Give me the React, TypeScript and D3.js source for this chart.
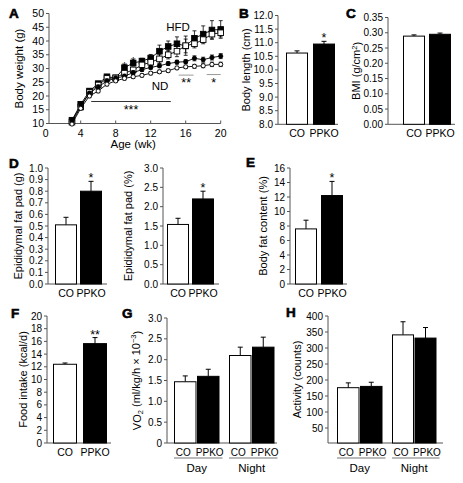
import React from 'react';
import * as d3 from 'd3';

const FONT = '"Liberation Sans", Arial, Helvetica, sans-serif';
const AXIS = '#555';

// ---------- Panel A data ----------
const weeks = [3, 4, 5, 6, 7, 8, 9, 10, 11, 12, 13, 14, 15, 16, 17, 18, 19, 20];
const hfdPPKO = [11.2, 17, 21.8, 24.5, 27, 26.6, 30.3, 32, 32.7, 33.8, 36.3, 38, 39, 38.2, 41, 42.5, 44, 44.2];
const hfdPPKOErr = [0.8, 0.8, 0.8, 0.8, 0.8, 0.8, 1, 1, 1, 1.3, 2.2, 2, 2.5, 2.5, 2.7, 3, 3.4, 3.2];
const hfdCO = [10.5, 16, 21.3, 24, 26.4, 26.6, 28.3, 29.5, 31.3, 32.3, 33.5, 35, 36.3, 38.3, 39, 40.5, 42.5, 43];
const hfdCOErr = [0.6, 0.8, 0.8, 0.8, 0.8, 0.8, 1, 1, 1, 1.3, 1.5, 1.5, 2, 3.5, 1.5, 1.5, 1.5, 1.5];
const ndPPKO = [11, 16.5, 21, 23.3, 25.5, 26.5, 27.2, 28.5, 29.6, 30.4, 31, 31.8, 32.3, 32.5, 33.7, 33.2, 34, 34.5];
const ndPPKOErr = [0.6, 0.7, 0.7, 0.7, 0.7, 0.7, 0.7, 0.7, 0.7, 0.7, 0.7, 0.7, 0.7, 0.7, 0.9, 0.9, 0.9, 0.9];
const ndCO = [9.8, 15.5, 20, 21.8, 24.3, 25.5, 26.4, 27, 27.5, 28.3, 28.8, 29.2, 30.2, 30.6, 30.8, 31, 31.5, 31.5];
const ndCOErr = [0.5, 0.6, 0.6, 0.6, 0.6, 0.6, 0.6, 0.6, 0.6, 0.6, 0.6, 0.6, 0.6, 0.6, 0.7, 0.7, 0.8, 0.8];
const weightTicks = [10, 15, 20, 25, 30, 35, 40, 45, 50];
const ageTicks = [0, 4, 8, 12, 16, 20];
const sigStarsA = [{ wk: 9, v: 29.8, label: '*' }, { wk: 10, v: 31.5, label: '*' }];
const sigBarsA = [
  { from: 5.2, to: 14.3, v: 18, label: '***', color: '#333' },
  { from: 15.2, to: 16.9, v: 27.6, label: '**', color: '#999' },
  { from: 18.4, to: 20, v: 27.8, label: '*', color: '#999' },
];

// ---------- Bar panel data ----------
const genotypes = ['CO', 'PPKO'];
const periods = ['Day', 'Night'];
const bodyLength = [10.62, 10.95];
const bodyLengthErr = [0.08, 0.1];
const bodyLengthSig = ['', '*'];
const bmi = [0.289, 0.295];
const bmiErr = [0.004, 0.004];
const bmiSig = ['', ''];
const fatPadG = [0.51, 0.8];
const fatPadGErr = [0.065, 0.085];
const fatPadGSig = ['', '*'];
const fatPadPct = [1.54, 2.2];
const fatPadPctErr = [0.16, 0.2];
const fatPadPctSig = ['', '*'];
const bodyFat = [7.6, 12.2];
const bodyFatErr = [1.2, 1.95];
const bodyFatSig = ['', '*'];
const foodIntake = [12.4, 15.65];
const foodIntakeErr = [0.2, 0.95];
const foodIntakeSig = ['', '**'];
const vo2Day = [1.47, 1.6];
const vo2DayErr = [0.14, 0.17];
const vo2Night = [2.1, 2.3];
const vo2NightErr = [0.2, 0.24];
const activityDay = [176, 180];
const activityDayErr = [15, 13];
const activityNight = [341, 331];
const activityNightErr = [41, 33];

const lengthTicks = [8, 8.5, 9, 9.5, 10, 10.5, 11, 11.5, 12];
const bmiTicks = [0, 0.05, 0.1, 0.15, 0.2, 0.25, 0.3, 0.35];
const fatPadGTicks = [0, 0.1, 0.2, 0.3, 0.4, 0.5, 0.6, 0.7, 0.8, 0.9, 1.0];
const fatPadPctTicks = [0, 0.5, 1.0, 1.5, 2.0, 2.5, 3.0];
const bodyFatTicks = [0, 2, 4, 6, 8, 10, 12, 14, 16];
const foodTicks = [0, 2, 4, 6, 8, 10, 12, 14, 16, 18, 20];
const vo2Ticks = [0, 0.5, 1.0, 1.5, 2.0, 2.5, 3.0];
const activityTicks = [50, 100, 150, 200, 250, 300, 350, 400];

type BarSet = {
  x0: number;
  w: number;
  g: number;
  values: number[];
  errs: number[];
  sig?: string[];
  period?: string;
};

type BarSpec = {
  y: d3.ScaleLinear<number, number>;
  ticks: number[];
  fmt: (v: number) => string;
  axisX: number;
  axisRight: number;
  base: number;
  yLabel: React.ReactNode;
  yLabelX: number;
  sets: BarSet[];
};

function BarChart({ spec }: { spec: BarSpec }) {
  const { y, ticks, fmt, axisX, axisRight, base, yLabel, yLabelX, sets } = spec;
  const top = y(ticks[ticks.length - 1]);
  return (
    <g>
      <line x1={axisX} x2={axisX} y1={base} y2={top} stroke={AXIS} />
      <line x1={axisX} x2={axisRight} y1={base} y2={base} stroke={AXIS} />
      {ticks.map((t) => (
        <g key={t}>
          <line x1={axisX - 3} x2={axisX} y1={y(t)} y2={y(t)} stroke={AXIS} />
          <text x={axisX - 5} y={y(t)} dy="0.35em" textAnchor="end" fontSize={10}>
            {fmt(t)}
          </text>
        </g>
      ))}
      <text
        transform={`translate(${yLabelX},${(base + top) / 2}) rotate(-90)`}
        dy="0.35em"
        textAnchor="middle"
        fontSize={11}
      >
        {yLabel}
      </text>
      {sets.map((set, si) => {
        const band = d3
          .scaleBand<string>()
          .domain(genotypes)
          .range([set.x0, set.x0 + 2 * set.w + set.g])
          .paddingInner(set.g / (set.w + set.g));
        const grouped = !!set.period;
        return (
          <g key={si}>
            {genotypes.map((gname, i) => {
              const bx = band(gname)!;
              const bw = band.bandwidth();
              const cx = bx + bw / 2;
              const v = set.values[i];
              const e = set.errs[i];
              const ytop = y(v);
              const yerr = y(v + e);
              const labelShift = grouped ? (i === 0 ? -2 : 1.5) : 0;
              return (
                <g key={gname}>
                  <line x1={cx} x2={cx} y1={ytop} y2={yerr} stroke="#000" />
                  <line x1={cx - 2.5} x2={cx + 2.5} y1={yerr} y2={yerr} stroke="#000" />
                  <rect
                    x={bx + 0.5}
                    y={ytop}
                    width={bw - 1}
                    height={base - ytop}
                    fill={i === 0 ? '#fff' : '#000'}
                    stroke="#000"
                  />
                  {set.sig && set.sig[i] ? (
                    <text x={cx} y={yerr + 1} textAnchor="middle" fontSize={12.5}>
                      {set.sig[i]}
                    </text>
                  ) : null}
                  <text x={cx + labelShift} y={base + 13} textAnchor="middle" fontSize={grouped ? 10 : 10.5}>
                    {gname}
                  </text>
                </g>
              );
            })}
            {set.period ? (
              <g>
                <line
                  x1={set.x0}
                  x2={set.x0 + 2 * set.w + set.g + 3}
                  y1={base + 15}
                  y2={base + 15}
                  stroke="#777"
                />
                <text x={set.x0 + set.w + set.g / 2} y={base + 28.5} textAnchor="middle" fontSize={11.5}>
                  {set.period}
                </text>
              </g>
            ) : null}
          </g>
        );
      })}
    </g>
  );
}

function PanelA() {
  const x = d3.scaleLinear().domain([0, 20]).range([45.7, 220.7]);
  const y = d3.scaleLinear().domain([10, 50]).range([123.5, 13.5]);
  const axisX = 49;
  const base = y(10);
  const line = d3
    .line<number>()
    .x((_, i) => x(weeks[i]))
    .y((d) => y(d));
  const series = [
    { vals: hfdPPKO, errs: hfdPPKOErr, shape: 'sq', fill: '#000' },
    { vals: hfdCO, errs: hfdCOErr, shape: 'sq', fill: '#fff' },
    { vals: ndPPKO, errs: ndPPKOErr, shape: 'ci', fill: '#000' },
    { vals: ndCO, errs: ndCOErr, shape: 'ci', fill: '#fff' },
  ];
  return (
    <g>
      <line x1={axisX} x2={axisX} y1={base} y2={y(50)} stroke={AXIS} />
      <line x1={axisX} x2={x(20)} y1={base} y2={base} stroke={AXIS} />
      {weightTicks.map((t) => (
        <g key={t}>
          <line x1={axisX - 3} x2={axisX} y1={y(t)} y2={y(t)} stroke={AXIS} />
          <text x={axisX - 5} y={y(t)} dy="0.35em" textAnchor="end" fontSize={10.5}>
            {t}
          </text>
        </g>
      ))}
      {ageTicks.map((t) => (
        <g key={t}>
          {t > 0 ? <line x1={x(t)} x2={x(t)} y1={base} y2={base - 3} stroke={AXIS} /> : null}
          <text x={x(t)} y={base + 13} textAnchor="middle" fontSize={10.5}>
            {t}
          </text>
        </g>
      ))}
      <text x={x(10)} y={base + 24.5} textAnchor="middle" fontSize={11.5}>
        Age (wk)
      </text>
      <text transform={`translate(19,${(base + y(50)) / 2}) rotate(-90)`} dy="0.35em" textAnchor="middle" fontSize={11.5}>
        Body weight (g)
      </text>
      {series.map((s, si) => (
        <g key={si}>
          <path d={line(s.vals) || ''} fill="none" stroke="#000" strokeWidth={0.9} />
          {s.vals.map((v, i) => {
            const cx = x(weeks[i]);
            const e = s.errs[i];
            return (
              <g key={i}>
                <line x1={cx} x2={cx} y1={y(v - e)} y2={y(v + e)} stroke="#000" strokeWidth={0.8} />
                <line x1={cx - 2} x2={cx + 2} y1={y(v + e)} y2={y(v + e)} stroke="#000" strokeWidth={0.8} />
                <line x1={cx - 2} x2={cx + 2} y1={y(v - e)} y2={y(v - e)} stroke="#000" strokeWidth={0.8} />
                {s.shape === 'sq' ? (
                  <rect x={cx - 2.8} y={y(v) - 2.8} width={5.6} height={5.6} fill={s.fill} stroke="#000" strokeWidth={0.9} />
                ) : (
                  <circle cx={cx} cy={y(v)} r={2.1} fill={s.fill} stroke="#000" strokeWidth={0.9} />
                )}
              </g>
            );
          })}
        </g>
      ))}
      {sigStarsA.map((s, i) => (
        <text key={i} x={x(s.wk)} y={y(s.v) + 2} textAnchor="middle" fontSize={12.5}>
          {s.label}
        </text>
      ))}
      {sigBarsA.map((s, i) => (
        <g key={i}>
          <line x1={x(s.from)} x2={x(s.to)} y1={y(s.v)} y2={y(s.v)} stroke={s.color} strokeWidth={1} />
          <text x={(x(s.from) + x(s.to)) / 2} y={y(s.v) + 12} textAnchor="middle" fontSize={12.5}>
            {s.label}
          </text>
        </g>
      ))}
      <text x={178} y={31} textAnchor="middle" fontSize={11.5}>
        HFD
      </text>
      <text x={160} y={90} textAnchor="middle" fontSize={11.5}>
        ND
      </text>
    </g>
  );
}

const f1 = (v: number) => v.toFixed(1);
const f2 = (v: number) => v.toFixed(2);
const fInt = (v: number) => String(v);
const fZero1 = (v: number) => (v === 0 ? '0' : v.toFixed(1));

export default function App() {
  const specB: BarSpec = {
    y: d3.scaleLinear().domain([8, 12]).range([124.3, 15.5]),
    ticks: lengthTicks,
    fmt: f1,
    axisX: 278,
    axisRight: 338,
    base: 124.3,
    yLabel: 'Body length (cm)',
    yLabelX: 246,
    sets: [{ x0: 286, w: 22, g: 5, values: bodyLength, errs: bodyLengthErr, sig: bodyLengthSig }],
  };
  const specC: BarSpec = {
    y: d3.scaleLinear().domain([0, 0.35]).range([124.3, 17.5]),
    ticks: bmiTicks,
    fmt: f2,
    axisX: 388,
    axisRight: 455,
    base: 124.3,
    yLabel: (
      <>
        BMI (g/cm<tspan dy="-0.4em" fontSize={7.5}>2</tspan>
        <tspan dy="0.4em">)</tspan>
      </>
    ),
    yLabelX: 356,
    sets: [{ x0: 403, w: 22, g: 4, values: bmi, errs: bmiErr, sig: bmiSig }],
  };
  const specD1: BarSpec = {
    y: d3.scaleLinear().domain([0, 1]).range([284, 168]),
    ticks: fatPadGTicks,
    fmt: f1,
    axisX: 48,
    axisRight: 107,
    base: 284,
    yLabel: 'Epididymal fat pad (g)',
    yLabelX: 18,
    sets: [{ x0: 55, w: 22, g: 3, values: fatPadG, errs: fatPadGErr, sig: fatPadGSig }],
  };
  const specD2: BarSpec = {
    y: d3.scaleLinear().domain([0, 3]).range([284, 168]),
    ticks: fatPadPctTicks,
    fmt: f1,
    axisX: 163,
    axisRight: 219,
    base: 284,
    yLabel: 'Epididymal fat pad (%)',
    yLabelX: 128,
    sets: [{ x0: 167, w: 22, g: 3, values: fatPadPct, errs: fatPadPctErr, sig: fatPadPctSig }],
  };
  const specE: BarSpec = {
    y: d3.scaleLinear().domain([0, 16]).range([284, 168]),
    ticks: bodyFatTicks,
    fmt: fInt,
    axisX: 290,
    axisRight: 347,
    base: 284,
    yLabel: 'Body fat content (%)',
    yLabelX: 263,
    sets: [{ x0: 295, w: 22, g: 4, values: bodyFat, errs: bodyFatErr, sig: bodyFatSig }],
  };
  const specF: BarSpec = {
    y: d3.scaleLinear().domain([0, 20]).range([443, 316]),
    ticks: foodTicks,
    fmt: fInt,
    axisX: 47,
    axisRight: 111,
    base: 443,
    yLabel: 'Food intake (kcal/d)',
    yLabelX: 23,
    sets: [{ x0: 53, w: 24, g: 6, values: foodIntake, errs: foodIntakeErr, sig: foodIntakeSig }],
  };
  const specG: BarSpec = {
    y: d3.scaleLinear().domain([0, 3]).range([443, 318]),
    ticks: vo2Ticks,
    fmt: fZero1,
    axisX: 167,
    axisRight: 277,
    base: 443,
    yLabel: (
      <>
        VO<tspan dy="0.35em" fontSize={7.5}>2</tspan>
        <tspan dy="-0.35em"> (ml/kg/h × 10</tspan>
        <tspan dy="-0.45em" fontSize={7.5}>−3</tspan>
        <tspan dy="0.45em">)</tspan>
      </>
    ),
    yLabelX: 137,
    sets: [
      { x0: 174, w: 22.5, g: 0.5, values: vo2Day, errs: vo2DayErr, period: periods[0] },
      { x0: 229, w: 22.5, g: 0.5, values: vo2Night, errs: vo2NightErr, period: periods[1] },
    ],
  };
  const specH: BarSpec = {
    y: d3.scaleLinear().domain([0, 400]).range([444, 316]),
    ticks: activityTicks,
    fmt: fInt,
    axisX: 328,
    axisRight: 443,
    base: 443,
    yLabel: 'Activity (counts)',
    yLabelX: 297,
    sets: [
      { x0: 337, w: 22.5, g: 0.5, values: activityDay, errs: activityDayErr, period: periods[0] },
      { x0: 392, w: 22, g: 0.5, values: activityNight, errs: activityNightErr, period: periods[1] },
    ],
  };

  const letters = [
    { t: 'A', x: 9, y: 18 },
    { t: 'B', x: 239, y: 18 },
    { t: 'C', x: 346, y: 18 },
    { t: 'D', x: 9, y: 168 },
    { t: 'E', x: 246, y: 167 },
    { t: 'F', x: 11, y: 318 },
    { t: 'G', x: 122, y: 318 },
    { t: 'H', x: 286, y: 317 },
  ];

  return (
    <svg
      width={463}
      height={483}
      viewBox="0 0 463 483"
      style={{ position: 'absolute', left: 0, top: 0, background: '#fff' }}
      fontFamily={FONT}
    >
      <rect width={463} height={483} fill="#fff" />
      <PanelA />
      <BarChart spec={specB} />
      <BarChart spec={specC} />
      <BarChart spec={specD1} />
      <BarChart spec={specD2} />
      <BarChart spec={specE} />
      <BarChart spec={specF} />
      <BarChart spec={specG} />
      <BarChart spec={specH} />
      {letters.map((l) => (
        <text
          key={l.t}
          x={l.x}
          y={l.y}
          fontSize={13.5}
          fontWeight="bold"
          stroke="#000"
          strokeWidth={0.6}
        >
          {l.t}
        </text>
      ))}
    </svg>
  );
}
